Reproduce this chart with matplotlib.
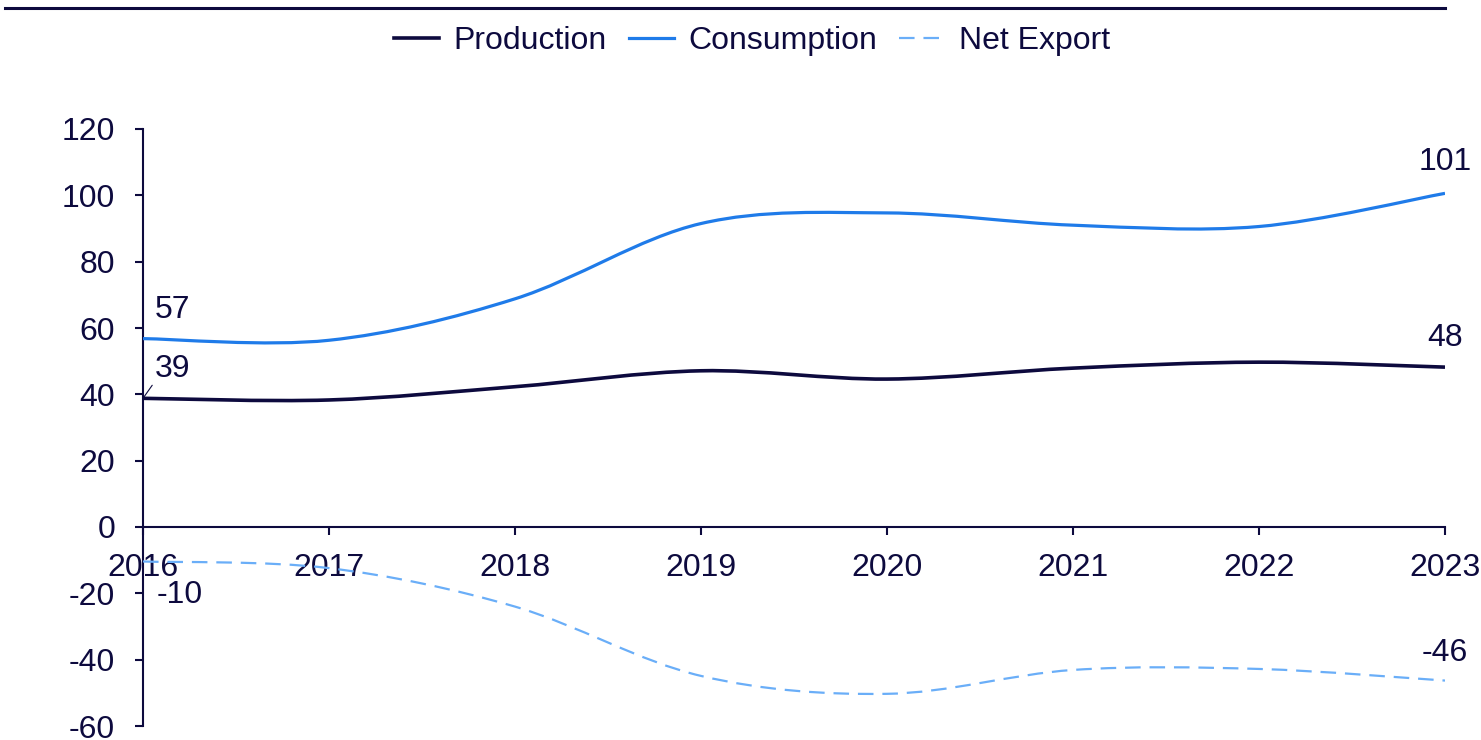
import numpy as np
import matplotlib
matplotlib.use('Agg')
import matplotlib.pyplot as plt
from matplotlib.path import Path
from matplotlib.patches import PathPatch
from matplotlib.lines import Line2D

plt.rcParams['font.family'] = ['Liberation Sans', 'DejaVu Sans']
plt.rcParams['axes.unicode_minus'] = False

# data
years = [2016, 2017, 2018, 2019, 2020, 2021, 2022, 2023]
production = [38.8, 38.3, 42.3, 47.1, 44.6, 47.9, 49.7, 48.2]
consumption = [56.8, 56.3, 68.8, 91.5, 94.7, 91.0, 90.6, 100.6]
net_export = [-10.4, -12.4, -24.0, -44.9, -50.3, -43.1, -42.8, -46.3]

navy = '#0d0a3e'
blue = '#1f7be9'
light = '#6aaef8'
fs = 23


def smooth_path(x, y):
    # Excel-like smoothed line: Catmull-Rom segments as cubic Bezier curves
    pts = list(zip(x, y))
    n = len(pts)
    verts = [pts[0]]
    codes = [Path.MOVETO]
    for i in range(n - 1):
        p0 = pts[i - 1] if i > 0 else pts[i]
        p1 = pts[i]
        p2 = pts[i + 1]
        p3 = pts[i + 2] if i + 2 < n else pts[i + 1]
        c1 = (p1[0] + (p2[0] - p0[0]) / 6, p1[1] + (p2[1] - p0[1]) / 6)
        c2 = (p2[0] - (p3[0] - p1[0]) / 6, p2[1] - (p3[1] - p1[1]) / 6)
        verts += [c1, c2, p2]
        codes += [Path.CURVE4] * 3
    return Path(verts, codes)


fig = plt.figure(figsize=(14.81, 7.40), dpi=100)
ax = fig.add_axes([143/1481, 14/740, (1445-143)/1481, 597/740])

series = [
    (production, navy, 2.6, 'solid', 'Production'),
    (consumption, blue, 2.3, 'solid', 'Consumption'),
    (net_export, light, 1.6, (0, (7, 4)), 'Net Export'),
]
handles = []
for vals, col, lw, ls, lab in series:
    ax.add_patch(PathPatch(smooth_path(years, vals), fill=False, edgecolor=col,
                           lw=lw, linestyle=ls, zorder=3, capstyle='butt'))
    handles.append(Line2D([], [], color=col, lw=lw, linestyle=ls, label=lab))

ax.set_xlim(2016, 2023)
ax.set_ylim(-60, 120)
ax.set_yticks(range(-60, 121, 20))
ax.set_xticks(years)

for s in ['top', 'right']:
    ax.spines[s].set_visible(False)
ax.spines['bottom'].set_position(('data', 0))
for s in ['left', 'bottom']:
    ax.spines[s].set_color(navy)
    ax.spines[s].set_linewidth(1.5)

ax.tick_params(axis='both', colors=navy, labelsize=fs, length=6, width=1.5, direction='out')
ax.tick_params(axis='x', pad=13)
ax.tick_params(axis='y', pad=14)
for t in ax.get_xticklabels():
    t.set_bbox(dict(facecolor='white', edgecolor='none', pad=2))

# end labels
def px(v):
    return v * 0.72

ax.annotate(f'{consumption[0]:.0f}', (years[0], consumption[0]), xytext=(px(12), px(29)),
            textcoords='offset points', ha='left', va='center', fontsize=fs, color=navy)
ax.annotate(f'{production[0]:.0f}', (years[0], production[0]), xytext=(px(12), px(29)),
            textcoords='offset points', ha='left', va='center', fontsize=fs, color=navy,
            arrowprops=dict(arrowstyle='-', color=navy, lw=0.8, shrinkA=0, shrinkB=1,
                            relpos=(0, 0.1)))
ax.annotate(f'{net_export[0]:.0f}', (years[0], net_export[0]), xytext=(px(14), px(-34)),
            textcoords='offset points', ha='left', va='center', fontsize=fs, color=navy)
ax.annotate(f'{consumption[-1]:.0f}', (years[-1], consumption[-1]), xytext=(0, px(31)),
            textcoords='offset points', ha='center', va='center', fontsize=fs, color=navy)
ax.annotate(f'{production[-1]:.0f}', (years[-1], production[-1]), xytext=(0, px(29)),
            textcoords='offset points', ha='center', va='center', fontsize=fs, color=navy)
ax.annotate(f'{net_export[-1]:.0f}', (years[-1], net_export[-1]), xytext=(0, px(28)),
            textcoords='offset points', ha='center', va='center', fontsize=fs, color=navy)

# top rule and legend
fig.add_artist(Line2D([5/1481, 1445/1481], [1 - 8/740, 1 - 8/740], color=navy, lw=2.2,
                      transform=fig.transFigure))
leg = fig.legend(handles=handles, loc='center', bbox_to_anchor=(752/1481, 1 - 41/740),
                 ncol=3, frameon=False, fontsize=fs, handlelength=1.4, handletextpad=0.45,
                 columnspacing=0.7)
for t in leg.get_texts():
    t.set_color(navy)

fig.savefig('out.png', dpi=100)
